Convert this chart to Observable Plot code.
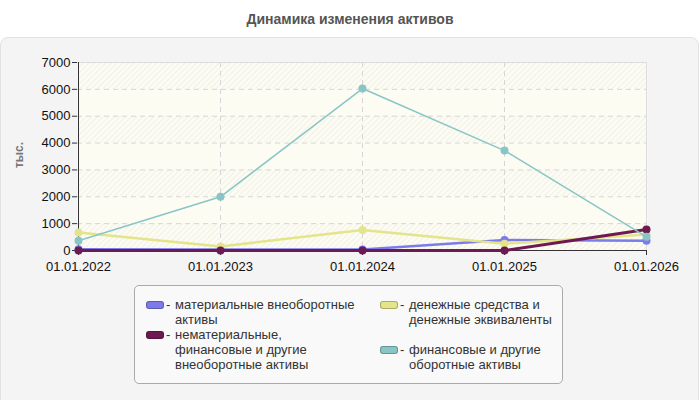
<!DOCTYPE html>
<html><head><meta charset="utf-8">
<script src="https://cdn.jsdelivr.net/npm/d3@7"></script>
<script src="https://cdn.jsdelivr.net/npm/@observablehq/plot@0.6"></script>
<style>
body{margin:0;background:#fff;font-family:"Liberation Sans",Arial,sans-serif;}
#wrap{position:relative;width:700px;height:400px;overflow:hidden;}
#title{position:absolute;top:11px;left:0;width:700px;text-align:center;font-family:"Liberation Sans Narrow","Liberation Sans",Arial,sans-serif;font-weight:bold;font-size:14px;color:#555;}
#panel{position:absolute;top:37px;left:0;width:697px;height:370px;background:#f4f4f4;border:1px solid #e2e2e2;border-radius:8px;}
#chart{position:absolute;top:37px;left:0;}
#ylab{position:absolute;left:19px;top:155px;transform:translate(-50%,-50%) rotate(-90deg);font-weight:bold;font-size:12px;color:#777;}
#legend{position:absolute;left:134px;top:285px;width:427px;height:97px;background:#f9f9f9;border:1px solid #aaa;border-radius:5px;}
.item{position:absolute;font-size:13px;line-height:15px;color:#333;}
.sw{position:absolute;left:0;top:4px;width:16px;height:6px;border-radius:3px;border:1px solid rgba(0,0,0,0.25);}
.dash{position:absolute;left:20px;top:0;}
.txt{position:absolute;left:29px;top:0;}
</style></head>
<body><div id="wrap">
<div id="title">Динамика изменения активов</div>
<div id="panel"></div>
<div id="chart"></div>
<div id="ylab">тыс.</div>
<div id="legend"></div>
</div>
<script>
const years = ["01.01.2022","01.01.2023","01.01.2024","01.01.2025","01.01.2026"];
const yTicks = [0,1000,2000,3000,4000,5000,6000,7000];
const seriesNames = ["материальные внеоборотные активы","нематериальные, финансовые и другие внеоборотные активы","денежные средства и денежные эквиваленты","финансовые и другие оборотные активы"];
const seriesColors = ["#7b7bea","#6e1a52","#e4e48a","#88c6c6"];
const material = [50, 40, 40, 390, 360];
const intangible = [0, 0, 0, 0, 780];
const cash = [670, 150, 760, 250, 600];
const financial = [360, 2000, 6030, 3720, 510];

const valuesBySeries = [material, intangible, cash, financial];
const rows = [];
valuesBySeries.forEach((vals, i) => vals.forEach((v, j) => rows.push({series: seriesNames[i], year: years[j], value: v})));
const bands = [];
for (let i = 0; i < yTicks.length - 1; i++) if (i % 2 === 1) bands.push({y1: yTicks[i], y2: yTicks[i+1]});

const drawOrder = [0, 2, 1, 3];
const widths = [2.5, 3, 2.5, 1.5];
const seriesMarks = [];
drawOrder.forEach(i => {
  const d = rows.filter(r => r.series === seriesNames[i]);
  seriesMarks.push(Plot.line(d, {x: "year", y: "value", stroke: seriesColors[i], strokeWidth: widths[i]}));
  seriesMarks.push(Plot.dot(d, {x: "year", y: "value", fill: seriesColors[i], r: 4}));
});

const svg = Plot.plot({
  width: 700, height: 243,
  marginLeft: 77, marginRight: 53, marginTop: 25, marginBottom: 30,
  style: {background: "transparent", fontSize: "13px", fontFamily: "'Liberation Sans', Arial, sans-serif", color: "#111", overflow: "visible"},
  x: {type: "point", domain: years, padding: 0, label: null},
  y: {domain: [0, 7000], label: null},
  marks: [
    Plot.frame({fill: "#fcfcf3", stroke: null}),
    Plot.frame({fill: "url(#hatch)", stroke: null}),
    Plot.rect(bands, {y1: "y1", y2: "y2", fill: "#fcfcf3"}),
    Plot.gridY(yTicks.slice(1, -1), {stroke: "#d6d6d6", strokeOpacity: 1, strokeDasharray: "5,4"}),
    Plot.gridX(years.slice(1, -1), {stroke: "#d6d6d6", strokeOpacity: 1, strokeDasharray: "5,4"}),
    Plot.ruleY([7000], {stroke: "#dcdcdc"}),
    Plot.ruleX([years[years.length - 1]], {stroke: "#dcdcdc"}),
    Plot.axisY({ticks: yTicks, tickFormat: d3.format("d"), tickSize: 5, tickPadding: 2, stroke: "#333"}),
    Plot.axisX({tickSize: 5, tickPadding: 6, stroke: "#333"}),
    Plot.ruleX([years[0]], {stroke: "#333"}),
    Plot.ruleY([0], {stroke: "#333"}),
    ...seriesMarks
  ]
});
const ns = "http://www.w3.org/2000/svg";
const defs = document.createElementNS(ns, "defs");
defs.innerHTML = '<pattern id="hatch" patternUnits="userSpaceOnUse" width="4" height="4" patternTransform="rotate(45)"><line x1="0" y1="0" x2="0" y2="4" stroke="#e6e6e2" stroke-width="1"/></pattern>';
svg.insertBefore(defs, svg.firstChild);
document.getElementById("chart").appendChild(svg);

const legend = document.getElementById("legend");
const pos = [[11, 11, 190], [11, 41, 150], [245, 11, 170], [245, 56, 170]];
seriesNames.forEach((n, i) => {
  const it = document.createElement("div");
  it.className = "item";
  it.style.left = pos[i][0] + "px";
  it.style.top = pos[i][1] + "px";
  it.innerHTML = `<span class="sw" style="background:${seriesColors[i]}"></span><span class="dash">-</span><span class="txt" style="width:${pos[i][2]}px">${n}</span>`;
  legend.appendChild(it);
});
</script>
</body></html>
